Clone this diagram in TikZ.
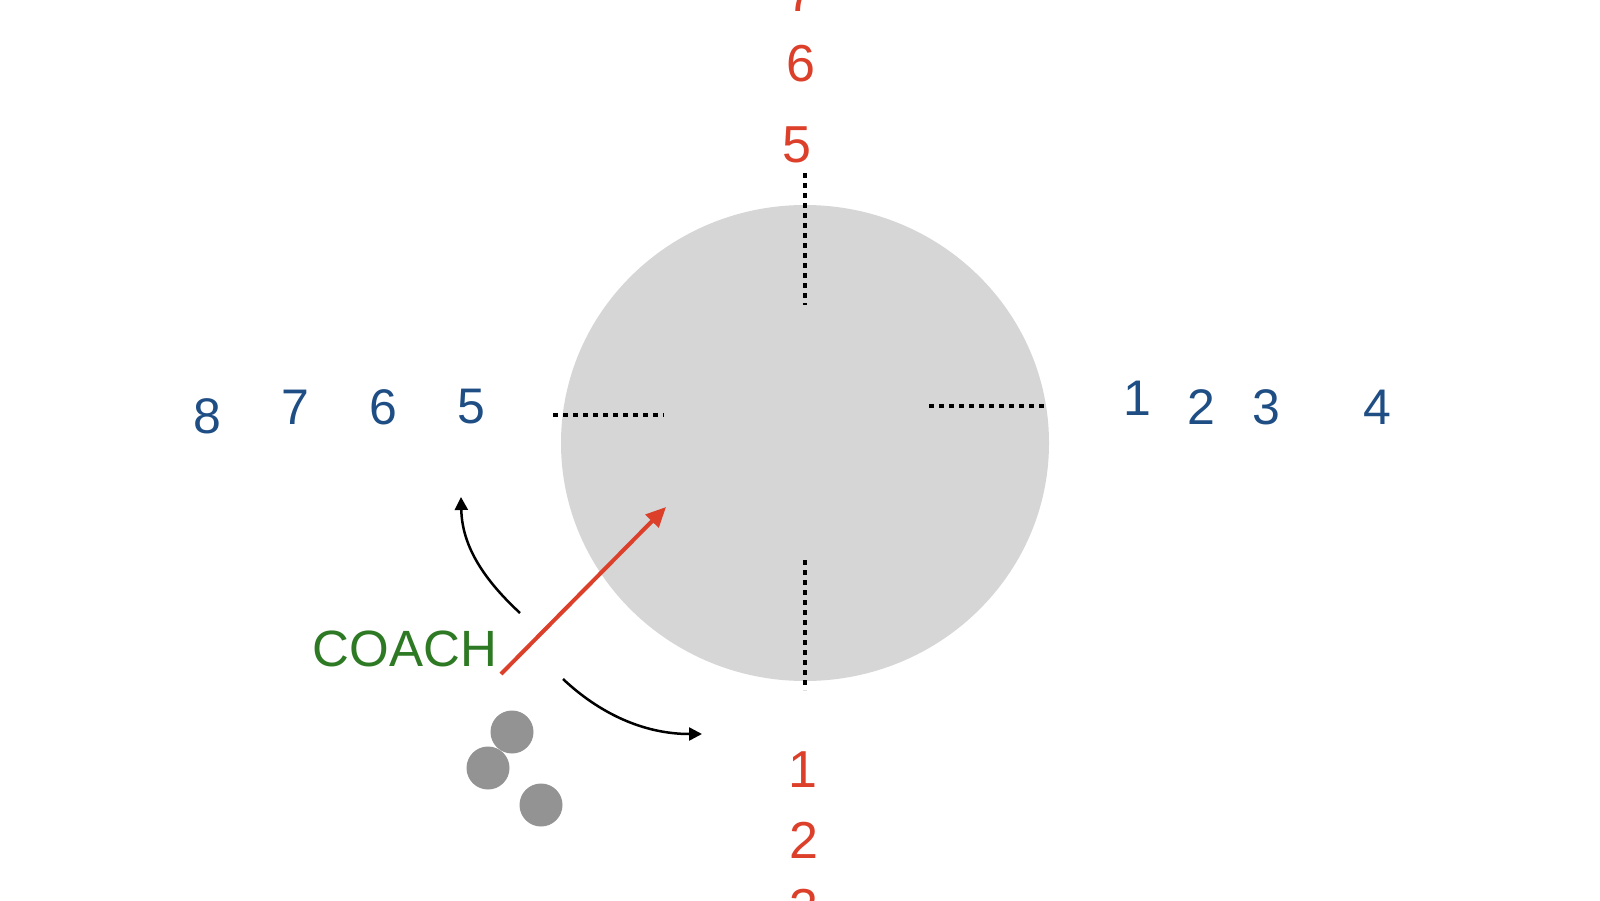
\documentclass[tikz,border=0pt]{standalone}
\usepackage{fontspec}
\setmainfont{Liberation Sans}
\usetikzlibrary{arrows.meta,shapes.geometric}
\definecolor{redc}{HTML}{DC3F2A}
\definecolor{bluec}{HTML}{1F4E85}
\definecolor{greenc}{HTML}{2E7A24}
\definecolor{circc}{HTML}{D6D6D6}
\definecolor{dotc}{HTML}{939393}
\tikzset{
  rednum/.style={text=redc, inner sep=0pt, font=\fontsize{26}{26}\selectfont},
  bluenum/.style={text=bluec, inner sep=0pt, font=\fontsize{25}{25}\selectfont},
  dashline/.style={black, line width=1.6pt, dash pattern=on 2.7pt off 2.3pt},
  curvearrow/.style={black, line width=1.25pt, -{Triangle[length=6.5pt,width=6.5pt]}},
  dot/.style={circle, fill=dotc, draw=none, minimum size=21.5pt, inner sep=0pt}
}
\begin{document}
\begin{tikzpicture}[x=0.5pt,y=-0.5pt]
\useasboundingbox (0,0) rectangle (1600,900);
\fill[white] (0,0) rectangle (1600,900);
% big circle
\node[ellipse, fill=circc, minimum width=244pt, minimum height=238pt, inner sep=0pt] (field) at (805,443) {};
% dashed lines
\coordinate (tA) at (805,173); \coordinate (tB) at (805,305);
\coordinate (lA) at (553,415); \coordinate (lB) at (664,415);
\coordinate (rA) at (929,406); \coordinate (rB) at (1046,406);
\coordinate (bA) at (805,560); \coordinate (bB) at (805,690);
\draw[dashline] (tA) -- (tB);
\draw[dashline] (lA) -- (lB);
\draw[dashline] (rA) -- (rB);
\draw[dashline] (bA) -- (bB);
% red numbers top
\node[rednum] (r7) at (801,-6) {7};
\node[rednum] (r6) at (801,64) {6};
\node[rednum] (r5) at (797,145) {5};
% red numbers bottom
\node[rednum] (r1) at (803,770) {1};
\node[rednum] (r2) at (804,840) {2};
\node[rednum] (r3) at (804,908) {3};
% blue numbers left
\node[bluenum] (b8) at (207,416) {8};
\node[bluenum] (b7) at (295,407) {7};
\node[bluenum] (b6) at (383,407) {6};
\node[bluenum] (b5) at (471,407) {5};
% blue numbers right
\node[bluenum] (b1) at (1137,398) {1};
\node[bluenum] (b2) at (1201,407) {2};
\node[bluenum] (b3) at (1266,407) {3};
\node[bluenum] (b4) at (1377,407) {4};
% coach
\node[text=greenc, inner sep=0pt, font=\fontsize{25.5}{25.5}\selectfont] (coach) at (405,649) {COACH};
% arrows
\coordinate (ra) at (501,674); \coordinate (rb) at (666,507);
\draw[redc, line width=2pt, -{Triangle[length=10pt,width=9pt]}] (ra) -- (rb);
\coordinate (a1s) at (520,613); \coordinate (a1e) at (461,497);
\draw[curvearrow] (a1s) .. controls (480,576) and (462,543) .. (a1e);
\coordinate (a2s) at (563,679); \coordinate (a2e) at (702,734);
\draw[curvearrow] (a2s) .. controls (598,712) and (642,734) .. (a2e);
% dots
\node[dot] (d1) at (512,732) {};
\node[dot] (d2) at (488,768) {};
\node[dot] (d3) at (541,805) {};
\end{tikzpicture}
\end{document}
